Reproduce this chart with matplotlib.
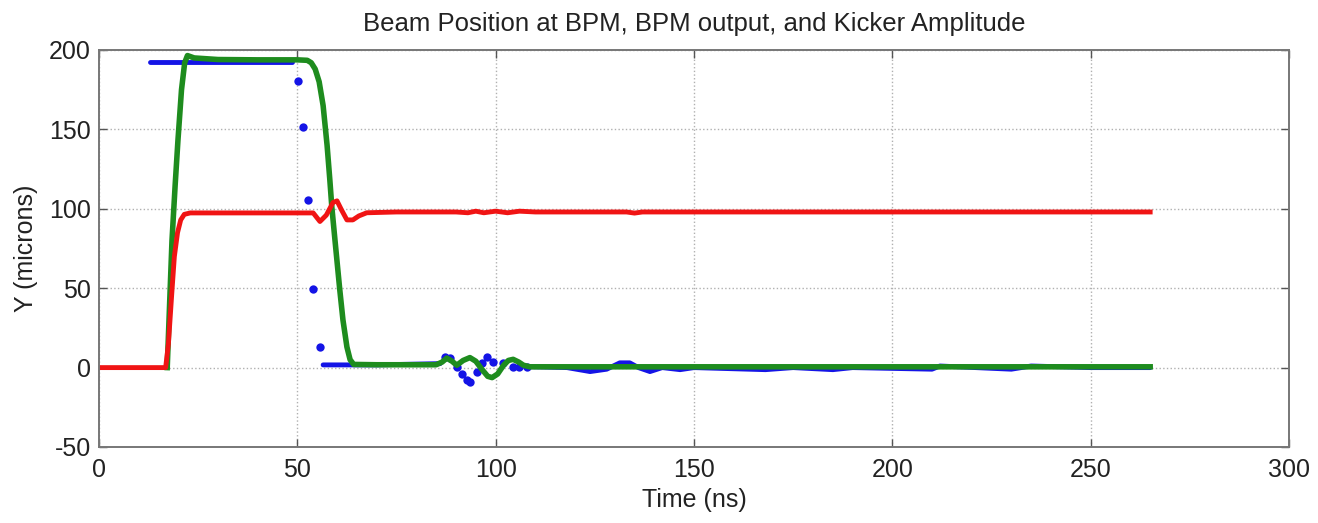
## Beam position at BPM, BPM output and kicker amplitude
## values
import matplotlib.pyplot as plt

plt.rcParams['font.family'] = ['Liberation Sans', 'DejaVu Sans']
plt.rcParams['axes.unicode_minus'] = False

# BPM output (red)
red_t = [0, 16.8, 17.5, 18.3, 19.0, 19.8, 20.6, 21.5, 23, 40, 54, 55.7, 57.3, 59.0,
         60.0, 61.2, 62.5, 64.0, 65.5, 67.5, 75, 90, 93, 95, 97, 100, 103, 106,
         110, 133, 135, 137, 265]
red_y = [0, 0, 15, 45, 70, 85, 93, 96.5, 97.4, 97.4, 97.4, 92, 96, 104,
         105, 99, 93, 93, 95.5, 97.5, 98, 98, 97.5, 98.5, 97.5, 98.5, 97.5, 98.5,
         98, 98, 97.3, 98, 98]

# kicker amplitude (green)
green_t = [17.2, 17.8, 18.4, 19.2, 19.9, 20.8, 21.6, 22.3, 24, 30, 40, 50, 52.5,
           53.5, 54.5, 55.5, 56.5, 57.5, 58.2, 58.7, 59.5, 60.7, 61.5, 62.5,
           63.3, 64.2, 70, 85, 86.5, 87.7, 89, 90.2, 91.8, 93.5, 95, 96.5, 98,
           99.1, 100.5, 102, 103.2, 104.4, 105.8, 107, 108.6, 120, 265]
green_y = [0, 40, 80, 115, 143, 175, 192, 196.5, 195, 194, 193.8, 193.8, 193.5,
           192, 188, 180, 165, 140, 118, 101, 80, 49, 30, 13,
           5, 2, 1.8, 1.8, 3.5, 6, 4, 1.5, 4.5, 6.3, 4, -1, -5.5,
           -6.3, -4, 1.5, 4.5, 5.2, 3.5, 1.5, 0.5, 0.5, 0.5]

# beam position at BPM (blue), dense runs of samples
blue_top_t = [12.9, 48.6]
blue_top_y = [192.4, 192.4]
blue_mid_t = [56.5, 62, 70, 86]
blue_mid_y = [1.7, 1.7, 1.7, 2.5]
blue_tail_t = [108, 118, 123.8, 128, 131.3, 133.8, 136, 138.9, 142, 146.5, 150,
               168, 175, 185, 190, 210, 212, 230, 235, 250, 265]
blue_tail_y = [0.6, 0, -2.5, -1, 3, 3, 0, -2.5, 0, -1.3, 0,
               -1.3, 0, -1.3, 0, -1, 1, -1, 1, 0, 0]
# isolated samples
blue_dot_t = [50.2, 51.5, 52.7, 54.0, 55.7, 87.2, 88.5, 90.2, 91.5, 92.8, 93.5,
              95.3, 96.5, 97.8, 99.4, 101.9, 104.4, 106, 107.9]
blue_dot_y = [180.5, 151.5, 105.5, 49.5, 13, 6.9, 6, 0.6, -4, -7.8, -9,
              -3, 3, 6.9, 3.7, 3, 0.6, 0.6, 0.6]

blue = '#1414e6'
green = '#1e8c1e'
red = '#f01414'

fig = plt.figure(figsize=(13.18, 5.23), dpi=100)
ax = fig.add_axes([99/1318, 76/523, 1190/1318, 397/523])

for t, y in [(blue_top_t, blue_top_y), (blue_mid_t, blue_mid_y), (blue_tail_t, blue_tail_y)]:
    ax.plot(t, y, color=blue, lw=3.5, solid_capstyle='round')
ax.plot(blue_dot_t, blue_dot_y, 'o', color=blue, ms=6, mew=0)
ax.plot(green_t, green_y, color=green, lw=4)
ax.plot(red_t, red_y, color=red, lw=3.5)

ax.set_xlim(0, 300)
ax.set_ylim(-50, 200)
ax.set_xticks(range(0, 301, 50))
ax.set_yticks(range(-50, 201, 50))
ax.grid(True, ls=':', color='#b0b0b0', lw=1)
ax.tick_params(direction='in', length=6, width=1, colors='#555555',
               labelcolor='#222222', labelsize=18, top=True, right=True)
ax.tick_params(axis='x', pad=8)
ax.tick_params(axis='y', pad=6)
for s in ax.spines.values():
    s.set_color('#777777')
    s.set_linewidth(1.4)

ax.set_title('Beam Position at BPM, BPM output, and Kicker Amplitude', fontsize=18.5,
             color='#222222', pad=14)
ax.set_xlabel('Time (ns)', fontsize=18, color='#222222', labelpad=4)
ax.set_ylabel('Y (microns)', fontsize=18, color='#222222', labelpad=8)

plt.savefig('out.png', dpi=100)
